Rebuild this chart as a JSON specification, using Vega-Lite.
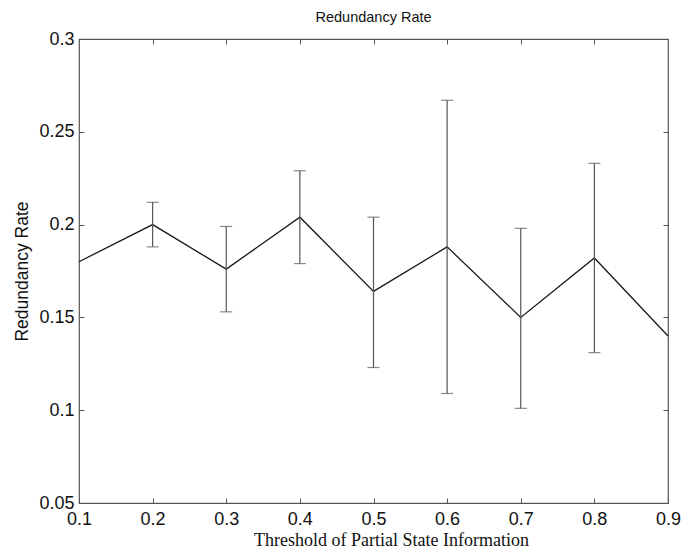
{
  "$schema": "https://vega.github.io/schema/vega-lite/v6.json",
  "width": 589,
  "height": 464,
  "autosize": {"type": "none"},
  "padding": {"left": 79, "top": 39, "right": 15, "bottom": 51},
  "background": "white",
  "title": {"text": "Redundancy Rate", "fontSize": 14.5, "font": "Liberation Sans", "fontWeight": "normal", "color": "#111", "offset": 5},
  "config": {
    "view": {"stroke": "#555", "strokeWidth": 1.2},
    "axis": {"grid": false, "domain": false, "tickSize": -5, "tickColor": "#555", "labelFont": "Liberation Sans", "labelFontSize": 18, "labelColor": "#111", "titleColor": "#111"}
  },
  "data": {"values": [
    {"x": 0.1, "y": 0.180, "lo": null, "hi": null},
    {"x": 0.2, "y": 0.200, "lo": 0.188, "hi": 0.212},
    {"x": 0.3, "y": 0.176, "lo": 0.153, "hi": 0.199},
    {"x": 0.4, "y": 0.204, "lo": 0.179, "hi": 0.229},
    {"x": 0.5, "y": 0.164, "lo": 0.123, "hi": 0.204},
    {"x": 0.6, "y": 0.188, "lo": 0.109, "hi": 0.267},
    {"x": 0.7, "y": 0.150, "lo": 0.101, "hi": 0.198},
    {"x": 0.8, "y": 0.182, "lo": 0.131, "hi": 0.233},
    {"x": 0.9, "y": 0.140, "lo": null, "hi": null}
  ]},
  "resolve": {"axis": {"x": "independent", "y": "independent"}},
  "layer": [
    {
      "mark": {"type": "line", "color": "#1a1a1a", "strokeWidth": 1.3},
      "encoding": {
        "x": {"field": "x", "type": "quantitative", "scale": {"domain": [0.1, 0.9], "nice": false, "zero": false},
              "axis": {"orient": "bottom", "values": [0.1,0.2,0.3,0.4,0.5,0.6,0.7,0.8,0.9], "format": ".1f", "labelPadding": 12, "labelFlush": false,
                       "title": "Threshold of Partial State Information", "titleFont": "Liberation Serif", "titleFontSize": 18, "titleFontWeight": "normal", "titlePadding": 3, "titleX": 312}},
        "y": {"field": "y", "type": "quantitative", "scale": {"domain": [0.05, 0.3], "nice": false, "zero": false},
              "axis": {"orient": "left", "values": [0.05,0.1,0.15,0.2,0.25,0.3], "format": ".2~f", "labelPadding": 10, "labelFlush": false,
                       "title": "Redundancy Rate", "titleFont": "Liberation Sans", "titleFontSize": 17.5, "titleFontWeight": "normal", "titlePadding": 7}}
      }
    },
    {
      "mark": {"type": "rule", "color": "#555", "strokeWidth": 1.2},
      "encoding": {
        "x": {"field": "x", "type": "quantitative", "scale": {"domain": [0.1, 0.9], "nice": false, "zero": false},
              "axis": {"orient": "top", "values": [0.2,0.3,0.4,0.5,0.6,0.7,0.8], "labels": false, "title": null}},
        "y": {"field": "lo", "type": "quantitative", "scale": {"domain": [0.05, 0.3], "nice": false, "zero": false},
              "axis": {"orient": "right", "values": [0.1,0.15,0.2,0.25], "labels": false, "title": null}},
        "y2": {"field": "hi"}
      }
    },
    {
      "mark": {"type": "tick", "orient": "horizontal", "color": "#555", "size": 12, "thickness": 1.2},
      "encoding": {
        "x": {"field": "x", "type": "quantitative", "axis": null},
        "y": {"field": "lo", "type": "quantitative", "axis": null}
      }
    },
    {
      "mark": {"type": "tick", "orient": "horizontal", "color": "#555", "size": 12, "thickness": 1.2},
      "encoding": {
        "x": {"field": "x", "type": "quantitative", "axis": null},
        "y": {"field": "hi", "type": "quantitative", "axis": null}
      }
    }
  ]
}
